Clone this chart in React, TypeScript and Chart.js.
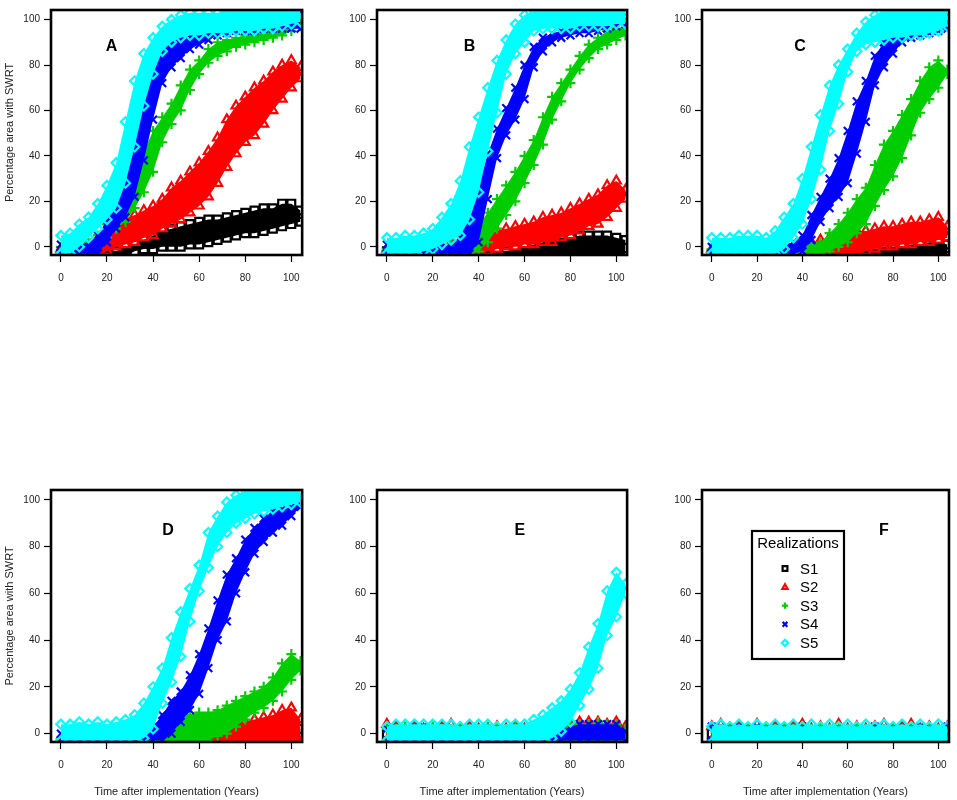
import React, { useEffect, useRef } from 'react';
import Chart from 'chart.js/auto';

// x positions (years) shared by every series
const years = [0, 4, 8, 12, 16, 20, 24, 28, 32, 36, 40, 44, 48, 52, 56, 60, 64, 68, 72, 76, 80, 84, 88, 92, 96, 100, 104];
const xTicks = [0, 20, 40, 60, 80, 100];
const yTicks = [0, 20, 40, 60, 80, 100];

const seriesNames = ['S1', 'S2', 'S3', 'S4', 'S5'];
const seriesColors = ['#000000', '#ff0000', '#00cd00', '#0000ff', '#00ffff'];
const seriesMarkers = ['rect', 'triangle', 'cross', 'crossRot', 'rectRot'];
const markerRadius = [5.5, 5.2, 5, 5.5, 4.6];

// floor rows (band sits on the bottom of the frame)
const floor4 = [-4, -4, -4, -4, -4, -4, -4, -4, -4, -4, -4, -4, -4, -4, -4, -4, -4, -4, -4, -4, -4, -4, -4, -4, -4, -4, -4];
const floor3 = [-3, -3, -3, -3, -3, -3, -3, -3, -3, -3, -3, -3, -3, -3, -3, -3, -3, -3, -3, -3, -3, -3, -3, -3, -3, -3, -3];

// panel A: lower / upper edge of each realization cloud
const aS1Lo = [-4, -4, -4, -4, -4, -4, -4, -4, -2, -1, -1, 0, 0, 0, 1, 1, 2, 3, 4, 5, 6, 6, 7, 8, 9, 10, 11];
const aS1Hi = [-3, -3, -3, -3, -3, -3, -2, 0, 1, 3, 5, 7, 8, 9, 10, 11, 12, 12, 13, 14, 15, 16, 17, 17, 19, 19, 16];
const aS2Lo = [-3, -3, -3, -3, -3, -2, 0, 1, 2, 4, 5, 8, 10, 12, 15, 18, 22, 28, 35, 41, 46, 49, 54, 60, 65, 70, 74];
const aS2Hi = [-1, -1, -1, -1, 3, 8, 11, 12, 14, 16, 18, 21, 26, 29, 33, 37, 42, 48, 56, 62, 66, 70, 73, 77, 80, 82, 79];
const aS3Lo = [-3, -3, -3, -3, 0, 4, 8, 11, 17, 24, 33, 46, 54, 60, 69, 76, 81, 84, 86, 88, 89, 90, 91, 92, 93, 95, 97];
const aS3Hi = [0, 0, 0, 2, 5, 10, 15, 23, 33, 42, 51, 57, 63, 71, 78, 82, 87, 90, 91, 92, 93, 94, 94, 95, 96, 98, 99];
const aS4Lo = [-3, -3, -3, -3, -3, 2, 8, 13, 22, 38, 56, 72, 79, 83, 87, 89, 91, 93, 94, 95, 95, 95, 96, 96, 96, 96, 96];
const aS4Hi = [1, 1, 1, 2, 5, 12, 22, 36, 52, 67, 80, 88, 92, 95, 97, 99, 100, 101, 102, 103, 103, 103, 103, 103, 103, 103, 103];
const aS5Lo = [-3, -3, 0, 4, 8, 12, 17, 28, 44, 62, 76, 86, 90, 92, 93, 93, 94, 94, 94, 95, 95, 95, 96, 96, 97, 98, 99];
const aS5Hi = [5, 6, 10, 13, 19, 27, 37, 55, 73, 85, 92, 97, 100, 102, 103, 103, 103, 103, 104, 104, 104, 104, 104, 104, 104, 104, 104];

// panel B
const bS1Hi = [-2, -2, -2, -2, -2, -2, -2, -2, -2, -2, -2, -2, -2, -2, -1, 0, 1, 2, 3, 4, 4, 5, 5, 5, 5, 4, 3];
const bS2Lo = [-4, -4, -4, -4, -4, -4, -4, -4, -4, -4, -3, -2, -1, 0, 0, 1, 1, 2, 2, 4, 5, 7, 9, 10, 13, 17, 21];
const bS2Hi = [-1, -1, -1, -1, -1, 0, 1, 2, 3, 4, 5, 6, 7, 8, 9, 10, 11, 13, 14, 15, 17, 19, 21, 23, 27, 29, 25];
const bS3Lo = [-3, -3, -3, -3, -3, -3, -3, -3, -3, -3, -2, 2, 8, 14, 20, 28, 36, 45, 56, 64, 72, 78, 83, 87, 89, 91, 93];
const bS3Hi = [-1, -1, -1, -1, -1, -1, 0, 1, 3, 6, 10, 15, 21, 27, 33, 40, 47, 57, 66, 72, 78, 84, 89, 92, 95, 96, 96];
const bS4Lo = [-3, -3, -3, -3, -3, -3, -3, -3, -3, -3, 2, 21, 39, 49, 56, 65, 79, 86, 90, 92, 93, 94, 94, 95, 96, 97, 98];
const bS4Hi = [1, 1, 1, 1, 1, 1, 1, 1, 4, 16, 27, 41, 52, 61, 70, 80, 88, 92, 94, 95, 96, 97, 98, 99, 99, 100, 100];
const bS5Lo = [-3, -3, -3, -3, -2, -1, 1, 3, 5, 12, 24, 42, 59, 76, 85, 90, 95, 96, 96, 96, 96, 97, 97, 97, 97, 98, 98];
const bS5Hi = [4, 4, 5, 5, 6, 8, 13, 19, 29, 44, 57, 70, 82, 91, 98, 102, 104, 104, 104, 104, 104, 104, 104, 104, 104, 104, 104];

// panel C
const cS1Hi = [-3, -3, -3, -3, -3, -3, -3, -3, -3, -3, -3, -3, -3, -3, -3, -2, -2, -1, -1, 0, 0, 0, 1, 1, 2, 2, 1];
const cS2Lo = [-4, -4, -4, -4, -4, -4, -4, -4, -4, -4, -4, -4, -4, -4, -4, -4, -3, -2, -1, 0, 0, 1, 1, 2, 2, 3, 4];
const cS2Hi = [-1, -1, -1, -1, -1, -1, -1, -1, -1, 0, 1, 2, 3, 4, 5, 6, 7, 7, 8, 9, 9, 10, 11, 11, 12, 13, 9];
const cS3Lo = [-3, -3, -3, -3, -3, -3, -3, -3, -3, -3, -3, -3, -3, -2, 0, 2, 6, 10, 18, 25, 31, 39, 49, 59, 65, 70, 76];
const cS3Hi = [-1, -1, -1, -1, -1, -1, -1, -1, -1, -1, 0, 1, 2, 6, 10, 15, 21, 26, 36, 45, 51, 58, 65, 73, 79, 82, 78];
const cS4Lo = [-3, -3, -3, -3, -3, -3, -3, -3, -3, -3, -2, 3, 11, 17, 22, 28, 41, 55, 71, 79, 85, 90, 92, 93, 94, 95, 96];
const cS4Hi = [0, 0, 0, 0, 0, 0, 0, 0, 1, 2, 5, 14, 22, 30, 39, 51, 64, 73, 84, 90, 93, 95, 97, 100, 102, 101, 99];
const cS5Lo = [-3, -3, -3, -3, -3, -3, -3, -3, -1, 4, 10, 21, 34, 51, 63, 77, 86, 89, 90, 91, 92, 92, 93, 93, 94, 95, 97];
const cS5Hi = [4, 4, 4, 5, 5, 5, 4, 7, 13, 19, 30, 44, 58, 71, 80, 87, 94, 99, 102, 104, 104, 104, 104, 104, 104, 104, 104];

// panel D
const dS1Hi = [-4, -4, -4, -4, -4, -4, -4, -4, -4, -4, -4, -4, -4, -4, -4, -4, -4, -4, -4, -3, -2, -1, 0, 0, 1, 1, 2];
const dS2Hi = [-3, -3, -3, -3, -3, -3, -3, -3, -3, -3, -3, -3, -3, -3, -3, -2, -1, 1, 3, 4, 5, 6, 7, 8, 10, 11, 6];
const dS3Lo = [-4, -4, -4, -4, -4, -4, -4, -4, -4, -4, -4, -4, -4, -4, -4, -4, -3, -1, 0, 3, 6, 9, 11, 14, 18, 23, 27];
const dS3Hi = [-2, -2, -2, -2, -2, -2, -2, -2, -2, -1, 0, 2, 5, 7, 8, 9, 9, 10, 12, 14, 16, 18, 20, 24, 30, 34, 31];
const dS4Lo = [-3, -3, -3, -3, -3, -3, -3, -3, -3, -3, -3, -3, 0, 5, 10, 17, 28, 40, 48, 60, 69, 77, 82, 86, 89, 93, 97];
const dS4Hi = [0, 0, 0, 0, 0, 0, 0, 0, 0, 1, 3, 8, 14, 18, 25, 34, 45, 57, 68, 75, 83, 88, 92, 95, 96, 97, 101];
const dS5Lo = [-3, -3, -3, -3, -3, -3, -3, -3, -3, -2, 2, 13, 22, 33, 48, 61, 71, 80, 86, 90, 92, 94, 95, 96, 97, 98, 99];
const dS5Hi = [4, 4, 5, 4, 5, 4, 5, 6, 8, 13, 20, 28, 41, 52, 62, 72, 86, 93, 99, 102, 104, 104, 104, 104, 104, 104, 104];

// panel E
const eS1Hi = [0, -1, 0, -1, 0, 0, -1, 0, -1, 0, 0, -1, 0, 0, -1, 0, 0, -1, 0, 0, 1, 1, 1, 1, 0, 1, 0];
const eS2Hi = [4, 3, 2, 3, 2, 2, 3, 4, 2, 3, 2, 2, 3, 2, 3, 2, 2, 3, 2, 3, 4, 5, 5, 5, 4, 5, 3];
const eS3Hi = [2, 2, 3, 2, 2, 3, 2, 2, 3, 2, 2, 3, 2, 2, 3, 2, 2, 2, 2, 3, 4, 4, 4, 5, 4, 4, 2];
const eS4Hi = [2, 1, 1, 3, 3, 1, 1, 1, 1, 1, 1, 2, 1, 1, 1, 1, 1, 1, 0, 1, 3, 4, 4, 4, 4, 4, 1];
const eS5Lo = [-3, -3, -3, -3, -3, -3, -3, -3, -3, -3, -3, -3, -3, -3, -3, -3, -3, -3, -2, 1, 5, 12, 19, 28, 42, 50, 60];
const eS5Hi = [3, 4, 4, 4, 4, 4, 4, 4, 3, 4, 4, 4, 3, 4, 4, 4, 6, 8, 11, 14, 19, 26, 37, 47, 61, 69, 64];

// panel F
const fS1Hi = [0, -1, 0, 0, -1, 0, 0, -1, 0, 0, -1, 0, 0, -1, 0, 0, -1, 0, 0, -1, 0, 0, -1, 0, 0, -1, 0];
const fS2Hi = [3, 4, 2, 3, 2, 4, 2, 3, 2, 3, 4, 2, 3, 2, 4, 2, 3, 2, 3, 4, 2, 3, 4, 2, 3, 2, 3];
const fS3Hi = [2, 2, 3, 2, 2, 2, 3, 2, 2, 2, 3, 2, 2, 2, 3, 2, 2, 2, 3, 2, 2, 2, 3, 2, 2, 2, 2];
const fS4Hi = [3, 2, 2, 3, 2, 3, 2, 2, 2, 2, 3, 2, 2, 2, 2, 2, 2, 2, 3, 2, 2, 2, 2, 3, 2, 2, 3];
const fS5Hi = [3, 4, 3, 4, 3, 4, 3, 4, 3, 4, 3, 4, 3, 4, 3, 4, 3, 4, 3, 4, 3, 4, 3, 4, 3, 4, 3];

const FONT = '"Liberation Sans", Arial, Helvetica, sans-serif';

interface PanelDef {
  letter: string;
  col: number;
  row: number;
  letterX: number;
  letterY: number;
  lo: number[][];
  hi: number[][];
  legend?: boolean;
}

const panels: PanelDef[] = [
  { letter: 'A', col: 0, row: 0, letterX: 22, letterY: 88, lo: [aS1Lo, aS2Lo, aS3Lo, aS4Lo, aS5Lo], hi: [aS1Hi, aS2Hi, aS3Hi, aS4Hi, aS5Hi] },
  { letter: 'B', col: 1, row: 0, letterX: 36, letterY: 88, lo: [floor4, bS2Lo, bS3Lo, bS4Lo, bS5Lo], hi: [bS1Hi, bS2Hi, bS3Hi, bS4Hi, bS5Hi] },
  { letter: 'C', col: 2, row: 0, letterX: 39, letterY: 88, lo: [floor4, cS2Lo, cS3Lo, cS4Lo, cS5Lo], hi: [cS1Hi, cS2Hi, cS3Hi, cS4Hi, cS5Hi] },
  { letter: 'D', col: 0, row: 1, letterX: 46.5, letterY: 87, lo: [floor4, floor4, dS3Lo, dS4Lo, dS5Lo], hi: [dS1Hi, dS2Hi, dS3Hi, dS4Hi, dS5Hi] },
  { letter: 'E', col: 1, row: 1, letterX: 58, letterY: 87, lo: [floor4, floor3, floor3, floor3, eS5Lo], hi: [eS1Hi, eS2Hi, eS3Hi, eS4Hi, eS5Hi] },
  { letter: 'F', col: 2, row: 1, letterX: 76, letterY: 87, lo: [floor4, floor3, floor3, floor3, floor4], hi: [fS1Hi, fS2Hi, fS3Hi, fS4Hi, fS5Hi], legend: true },
];

const columns = [
  { left: 0, width: 310, yw: 51, pr: 6 },
  { left: 320, width: 315, yw: 57, pr: 6 },
  { left: 640, width: 317, yw: 62, pr: 4 },
];
const rows = [
  { top: 0, height: 290, pt: 4, xh: 35 },
  { top: 480, height: 320, pt: 10, xh: 58 },
];

function drawMarker(ctx: CanvasRenderingContext2D, style: string, x: number, y: number, r: number, color: string) {
  ctx.save();
  ctx.strokeStyle = color;
  ctx.lineWidth = 2.2;
  ctx.beginPath();
  if (style === 'rect') {
    ctx.rect(x - r, y - r, 2 * r, 2 * r);
  } else if (style === 'triangle') {
    ctx.moveTo(x, y - r * 1.2);
    ctx.lineTo(x + r * 1.1, y + r * 0.8);
    ctx.lineTo(x - r * 1.1, y + r * 0.8);
    ctx.closePath();
  } else if (style === 'cross') {
    ctx.moveTo(x - r * 1.3, y); ctx.lineTo(x + r * 1.3, y);
    ctx.moveTo(x, y - r * 1.3); ctx.lineTo(x, y + r * 1.3);
  } else if (style === 'crossRot') {
    ctx.moveTo(x - r, y - r); ctx.lineTo(x + r, y + r);
    ctx.moveTo(x + r, y - r); ctx.lineTo(x - r, y + r);
  } else {
    ctx.moveTo(x, y - r * 1.3); ctx.lineTo(x + r * 1.3, y);
    ctx.lineTo(x, y + r * 1.3); ctx.lineTo(x - r * 1.3, y);
    ctx.closePath();
  }
  ctx.stroke();
  ctx.restore();
}

const Panel: React.FC<{ p: PanelDef }> = ({ p }) => {
  const canvasRef = useRef<HTMLCanvasElement>(null);
  const col = columns[p.col];
  const row = rows[p.row];

  useEffect(() => {
    if (!canvasRef.current) return;

    const datasets: any[] = [];
    seriesNames.forEach((name, i) => {
      const common = {
        showLine: false,
        pointStyle: seriesMarkers[i],
        pointRadius: markerRadius[i],
        pointBorderWidth: 2.2,
        pointBorderColor: seriesColors[i],
        pointBackgroundColor: 'rgba(0,0,0,0)',
        borderColor: seriesColors[i],
        borderWidth: 0,
        order: 5 - i,
        clip: 0,
      };
      datasets.push({ ...common, label: name + ' low', data: years.map((x, j) => ({ x, y: p.lo[i][j] })), fill: false });
      datasets.push({ ...common, label: name + ' high', data: years.map((x, j) => ({ x, y: p.hi[i][j] })), fill: '-1', backgroundColor: seriesColors[i] });
    });

    const framePlugin = {
      id: 'frame' + p.letter,
      afterDraw(chart: any) {
        const { ctx, chartArea: a, scales } = chart;
        ctx.save();
        ctx.font = 'bold 16px ' + FONT;
        ctx.fillStyle = '#000';
        ctx.textAlign = 'center';
        ctx.textBaseline = 'middle';
        ctx.fillText(p.letter, scales.x.getPixelForValue(p.letterX), scales.y.getPixelForValue(p.letterY));
        ctx.lineWidth = 2.6;
        ctx.strokeStyle = '#000';
        ctx.strokeRect(a.left, a.top, a.right - a.left, a.bottom - a.top);

        if (p.legend) {
          const bx = a.left + 50;
          const by = a.top + 41;
          const bw = 92;
          const bh = 128;
          ctx.fillStyle = '#fff';
          ctx.fillRect(bx, by, bw, bh);
          ctx.lineWidth = 2.2;
          ctx.strokeRect(bx, by, bw, bh);
          ctx.fillStyle = '#000';
          ctx.font = '15px ' + FONT;
          ctx.textAlign = 'center';
          ctx.fillText('Realizations', bx + bw / 2, by + 13);
          ctx.textAlign = 'left';
          seriesNames.forEach((name, i) => {
            const yy = by + 37.5 + i * 18.6;
            drawMarker(ctx, seriesMarkers[i], bx + 33, yy, 2.4, seriesColors[i]);
            ctx.fillStyle = '#000';
            ctx.fillText(name, bx + 48, yy + 1);
          });
        }
        ctx.restore();
      },
    };

    const chart = new Chart(canvasRef.current, {
      type: 'line',
      data: { datasets },
      options: {
        responsive: false,
        animation: false,
        events: [],
        layout: { padding: { top: row.pt, right: col.pr, left: 0, bottom: 0 } },
        plugins: { legend: { display: false }, tooltip: { enabled: false } },
        scales: {
          x: {
            type: 'linear',
            min: -4.3,
            max: 104.7,
            afterBuildTicks: (s: any) => { s.ticks = xTicks.map((v) => ({ value: v })); },
            afterFit: (s: any) => { s.height = row.xh; },
            grid: { drawOnChartArea: false, drawTicks: true, tickLength: 7, tickColor: '#000', tickWidth: 1.2 },
            border: { display: false },
            ticks: { autoSkip: false, maxRotation: 0, padding: 10, color: '#222', font: { family: FONT, size: 10 } },
            title: {
              display: p.row === 1,
              text: 'Time after implementation (Years)',
              color: '#222',
              font: { family: FONT, size: 11 },
              padding: { top: 0, bottom: 1 },
            },
          },
          y: {
            type: 'linear',
            min: -3.6,
            max: 104.2,
            afterBuildTicks: (s: any) => { s.ticks = yTicks.map((v) => ({ value: v })); },
            afterFit: (s: any) => { s.width = col.yw; },
            grid: { drawOnChartArea: false, drawTicks: true, tickLength: 7, tickColor: '#000', tickWidth: 1.2 },
            border: { display: false },
            ticks: { autoSkip: false, padding: 4, color: '#222', font: { family: FONT, size: 10 } },
            title: {
              display: p.col === 0,
              text: 'Percentage area with SWRT',
              color: '#222',
              font: { family: FONT, size: 11 },
              padding: { top: 3, bottom: 0 },
            },
          },
        },
      },
      plugins: [framePlugin],
    } as any);

    return () => {
      chart.destroy();
    };
  }, [p]);

  return (
    <canvas
      ref={canvasRef}
      width={col.width}
      height={row.height}
      style={{ position: 'absolute', left: col.left, top: row.top, width: col.width, height: row.height }}
    />
  );
};

export default function App() {
  return (
    <div style={{ position: 'absolute', left: 0, top: 0, width: 957, height: 800, background: '#fff', overflow: 'hidden' }}>
      {panels.map((p) => (
        <Panel key={p.letter} p={p} />
      ))}
    </div>
  );
}
